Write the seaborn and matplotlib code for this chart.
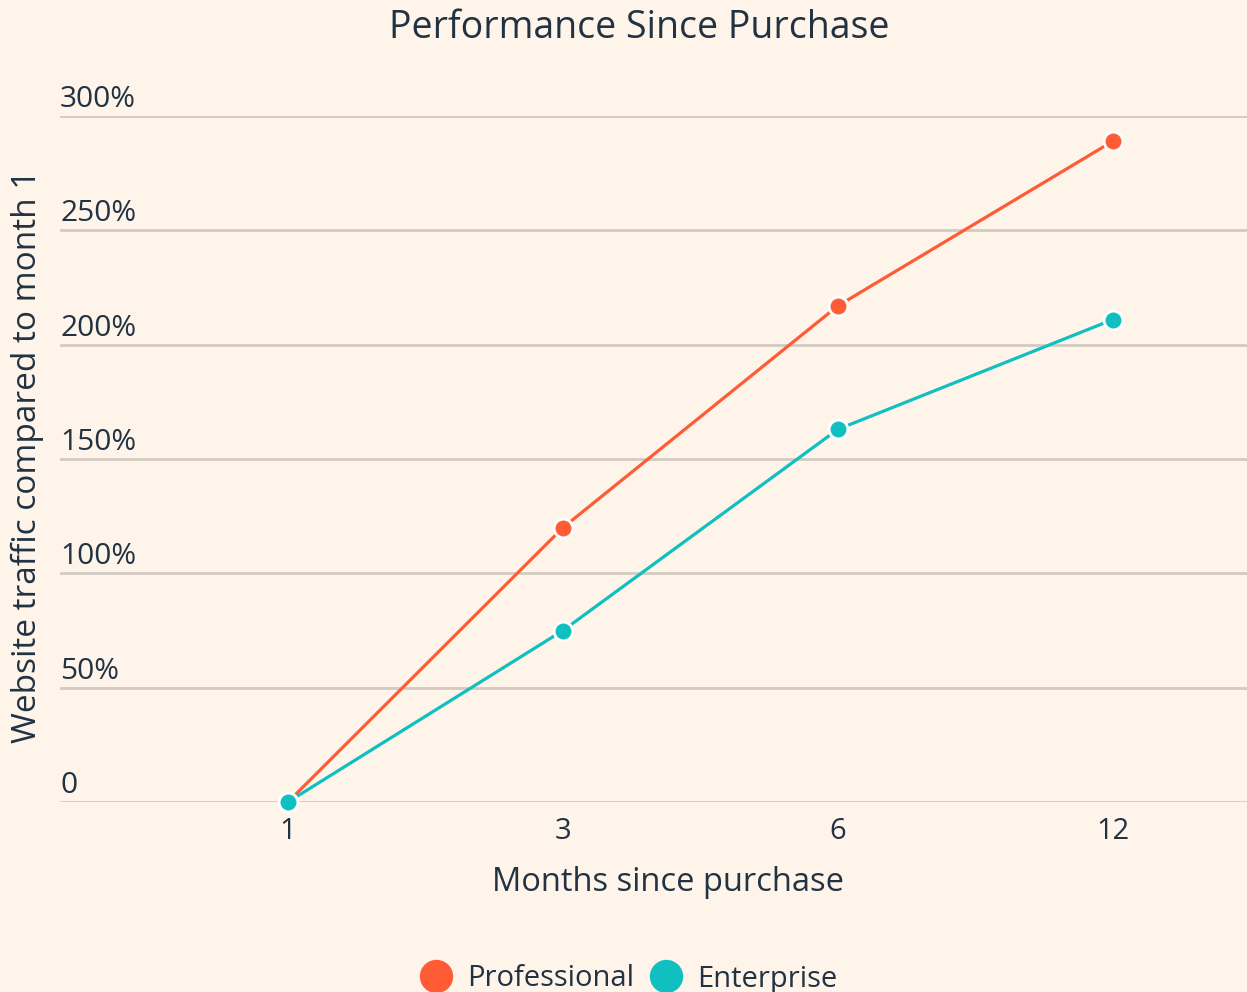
import matplotlib
matplotlib.use("Agg")
import matplotlib.pyplot as plt
import matplotlib.transforms as mtransforms
from matplotlib.lines import Line2D
import pandas as pd
import seaborn as sns

# chart data
months = ["1", "3", "6", "12"]
professional = [0, 120, 217, 289]
enterprise = [0, 75, 163, 211]
series_names = ["Professional", "Enterprise"]
y_ticks = [0, 50, 100, 150, 200, 250, 300]
y_tick_labels = ["0", "50%", "100%", "150%", "200%", "250%", "300%"]

BG = "#FEF4EA"
TEXT = "#213343"
GRID = "#D3CBC2"
COLORS = {"Professional": "#FF5C35", "Enterprise": "#10BFBF"}

df = pd.DataFrame({
    "month": months * 2,
    "value": professional + enterprise,
    "series": [series_names[0]] * len(months) + [series_names[1]] * len(months),
})

sns.set_theme(style="white")
plt.rcParams["font.family"] = ["Open Sans", "DejaVu Sans"]

fig = plt.figure(figsize=(12.47, 9.92), dpi=100, facecolor=BG)
ax = fig.add_axes([60 / 1247, 190 / 992, 1 - 60 / 1247, 686 / 992])
ax.set_facecolor(BG)

sns.lineplot(data=df, x="month", y="value", hue="series", palette=COLORS,
             marker="o", markersize=13.5, markeredgecolor="white", markeredgewidth=2,
             linewidth=2.3, legend=False, ax=ax, clip_on=False, zorder=3)

ax.set_xlim(-228 / 275, 959 / 275)
ax.set_ylim(0, 300)
ax.set_yticks(y_ticks)
ax.set_yticklabels(y_tick_labels)
ax.grid(axis="y", color=GRID, linewidth=2)
ax.set_axisbelow(True)
for s in ax.spines.values():
    s.set_visible(False)

ax.tick_params(axis="y", length=0, pad=0, labelsize=21.5, labelcolor=TEXT)
ax.tick_params(axis="x", length=0, pad=11, labelsize=21, labelcolor=TEXT)
offset = mtransforms.ScaledTranslation(0, 1.5 / 72, fig.dpi_scale_trans)
for lab in ax.get_yticklabels():
    lab.set_horizontalalignment("left")
    lab.set_verticalalignment("bottom")
    lab.set_transform(lab.get_transform() + offset)

ax.set_xlabel("Months since purchase", fontsize=23.5, color=TEXT, fontweight="medium")
ax.xaxis.set_label_coords((668 - 60) / 1187, -64 / 686)
ax.set_ylabel("Website traffic compared to month 1", fontsize=24, color=TEXT,
              fontweight="medium")
ax.yaxis.set_label_coords(-16 / 1187, (802 - 456) / 686)

fig.text(639 / 1247, 1 - 28 / 992, "Performance Since Purchase",
         ha="center", va="center", fontsize=27, color=TEXT, fontweight="medium")

handles = [Line2D([], [], linestyle="none", marker="o", markersize=24,
                  color=COLORS[n], markeredgewidth=0) for n in series_names]
fig.legend(handles, series_names, loc="center", bbox_to_anchor=(628 / 1247, 1 - 979 / 992),
           ncol=2, frameon=False, fontsize=21, labelcolor=TEXT, handletextpad=0.45,
           columnspacing=0.5, handlelength=1.2)

fig.savefig("out.png", dpi=100, facecolor=BG)
